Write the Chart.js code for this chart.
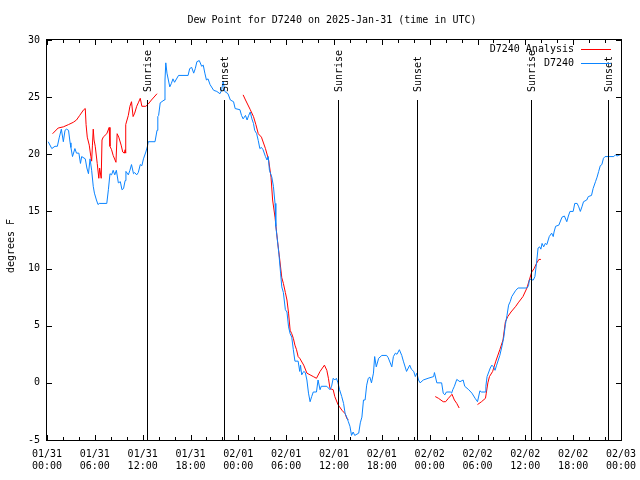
<!DOCTYPE html>
<html>
<head>
<meta charset="utf-8">
<script src="https://cdn.jsdelivr.net/npm/chart.js@4.4.1/dist/chart.umd.min.js"></script>
<style>
  html, body { margin: 0; padding: 0; background: #fff; }
</style>
</head>
<body>
<canvas id="dew-chart" width="640" height="480"></canvas>
<script>
// hours since 2025-01-31 00:00 UTC
const stationHours = [
  0.15, 0.6, 1.0, 1.3, 1.55, 1.8, 2.05, 2.26, 2.45, 2.7, 2.9, 3.0, 3.2, 3.5, 3.7, 4.0, 4.2, 4.35, 4.8, 5.0,
  5.2, 5.4, 5.6, 5.8, 5.95, 6.2, 6.4, 6.55, 7.5, 7.7, 7.9, 8.1, 8.3, 8.5, 8.7, 8.95, 9.2, 9.4, 9.6, 9.8,
  9.9, 10.2, 10.4, 10.6, 10.85, 11.0, 11.25, 11.45, 11.7, 11.9, 12.1, 12.4, 12.6, 12.7, 13.55, 13.8, 13.9, 14.0, 14.2, 14.7,
  14.8, 14.9, 15.05, 15.4, 15.6, 15.8, 16.0, 16.5, 17.7, 17.9, 18.15, 18.4, 18.6, 18.8, 19.1, 19.4, 19.6, 19.8, 20.0, 20.2,
  20.45, 20.9, 21.3, 21.7, 21.9, 22.1, 22.3, 22.7, 23.0, 23.4, 23.6, 24.2, 24.4, 24.6, 24.9, 25.1, 25.3, 25.5, 25.7, 25.9,
  26.05, 26.3, 26.5, 26.7, 26.9, 27.1, 27.4, 27.6, 27.75, 27.9, 28.2, 28.4, 28.6, 28.7, 28.9, 29.1, 29.3, 29.45, 29.65, 29.9,
  30.1, 30.3, 30.5, 30.7, 30.9, 31.1, 31.5, 31.7, 31.8, 31.95, 32.2, 32.4, 32.6, 32.8, 33.0, 33.2, 33.4, 33.8, 34.0, 34.25,
  34.4, 35.1, 35.5, 35.7, 35.9, 36.1, 36.3, 36.5, 36.7, 36.97, 37.2, 37.4, 37.6, 37.8, 38.0, 38.2, 38.4, 38.6, 39.1, 39.3,
  39.5, 39.7, 39.9, 40.1, 40.3, 40.5, 40.7, 40.95, 41.1, 41.3, 41.6, 42.0, 42.6, 42.8, 43.25, 43.45, 43.7, 43.9, 44.2, 44.5,
  44.7, 45.1, 45.5, 45.7, 46.0, 46.2, 46.4, 46.6, 46.8, 47.2, 47.8, 48.5, 48.6, 48.9, 49.5, 49.7, 49.9, 50.1, 50.6, 50.75,
  50.9, 51.1, 51.4, 51.8, 52.2, 52.4, 52.9, 53.3, 53.7, 54.0, 54.3, 54.5, 55.0, 55.05, 55.2, 55.6, 55.8, 56.0, 56.2, 56.4,
  56.8, 57.1, 57.3, 57.5, 57.7, 57.9, 58.1, 58.3, 58.8, 59.1, 60.2, 60.4, 60.5, 60.75, 60.85, 61.0, 61.2, 61.4, 61.6, 61.8,
  61.95, 62.1, 62.3, 62.5, 62.7, 63.0, 63.3, 63.5, 63.6, 63.8, 64.2, 64.6, 64.9, 65.2, 65.4, 65.6, 66.0, 66.2, 66.5, 66.7,
  66.9, 67.1, 67.3, 67.7, 67.9, 68.3, 68.5, 68.8, 69.0, 69.2, 69.4, 69.6, 69.8, 70.0, 71.1, 71.3, 71.5, 72.0
];
const stationDew = [
  21.1, 20.5, 20.7, 20.7, 21.5, 22.2, 21.1, 22.1, 22.2, 22.1, 21.0, 20.6, 19.8, 20.5, 20.1, 20.1, 19.2, 19.8, 19.6, 18.8,
  18.3, 19.6, 18.6, 17.2, 16.6, 16.0, 15.6, 15.7, 15.7, 16.9, 18.3, 18.2, 18.6, 18.2, 18.6, 17.5, 17.6, 16.9, 17.0, 17.7,
  18.5, 18.2, 18.6, 19.1, 18.3, 18.4, 18.2, 18.4, 19.1, 19.0, 19.6, 20.2, 20.7, 21.1, 21.1, 22.1, 23.3, 23.4, 24.5, 24.75,
  26.5, 28.0, 27.1, 25.9, 26.2, 26.6, 26.3, 26.9, 26.9, 27.5, 27.6, 27.1, 27.5, 28.1, 28.2, 27.7, 27.8, 27.1, 26.5, 26.6,
  26.1, 25.6, 25.5, 25.3, 25.6, 26.4, 25.5, 25.3, 24.75, 24.6, 24.0, 23.9, 23.4, 23.1, 23.4, 23.0, 23.4, 23.7, 23.1, 22.7,
  22.1, 21.8, 21.2, 20.5, 20.6, 20.4, 19.8, 19.5, 19.8, 18.6, 18.0, 17.2, 15.7, 13.7, 12.5, 11.2, 9.6, 8.4, 7.9, 6.4,
  6.2, 4.9, 4.3, 4.0, 2.9, 1.9, 1.9, 1.0, 1.55, 0.7, 1.0, 0.9, 0.25, -0.9, -1.65, -1.2, -0.8, -0.8, 0.25, -0.6,
  -0.3, -0.3, -0.6, -0.3, 0.4, 0.25, 0.4, 0.0, -0.6, -1.2, -1.8, -2.7, -3.0, -3.4, -3.8, -4.6, -4.3, -4.6, -4.4, -3.5,
  -3.0, -1.5, -1.5, -0.2, 0.4, 0.5, 0.0, 0.85, 2.3, 1.4, 2.15, 2.4, 2.4, 2.2, 1.4, 2.3, 2.6, 2.5, 2.9, 2.4,
  1.9, 1.0, 1.55, 1.2, 1.0, 0.55, 0.85, 0.25, 0.0, 0.25, 0.4, 0.55, 0.9, 0.0, 0.0, -0.9, -1.05, -0.8, -0.8, -0.9,
  -0.6, -0.3, 0.3, 0.1, 0.25, -0.3, -0.6, -0.9, -1.35, -1.65, -0.7, -0.8, -0.8, -0.3, 0.55, 1.3, 1.55, 1.4, 1.1, 1.55,
  2.4, 3.3, 4.0, 5.1, 5.9, 6.8, 7.1, 7.55, 8.1, 8.3, 8.3, 8.5, 9.0, 9.1, 9.0, 9.0, 9.3, 10.45, 11.8, 11.9,
  11.7, 12.2, 11.9, 12.2, 12.1, 12.8, 13.1, 12.8, 13.2, 13.7, 13.8, 14.5, 14.6, 14.1, 14.6, 15.0, 15.0, 15.7, 15.7, 15.4,
  15.0, 15.4, 15.85, 16.0, 16.3, 16.4, 17.0, 17.6, 18.0, 18.5, 19.0, 19.1, 19.65, 19.8, 19.8, 19.95, 19.85, 20.0
];

// null = no analysis value (gap in the line)
const analysisHours = [
  0.7, 1.4, 2.05, 2.7, 3.3, 3.7, 4.1, 4.6, 4.8, 4.9, 5.05, 5.3, 5.5, 5.6, 5.7, 5.8, 5.9, 6.05, 6.3, 6.5,
  6.6, 6.8, 6.9, 7.05, 7.5, 7.8, 7.9, 8.1, 8.3, 8.65, 8.8, 9.0, 9.3, 9.5, 9.7, 9.8, 9.85, 9.9, 10.2, 10.4,
  10.6, 10.8, 11.0, 11.25, 11.45, 11.7, 11.9, 12.4, 12.7, 13.1, 13.8, 19.0,
  24.6, 24.9, 25.5, 25.9, 26.2, 26.5, 26.9, 27.4, 27.8, 28.1, 28.3, 28.6, 28.9, 29.2, 29.45, 29.65, 29.9, 30.1, 30.3, 30.5,
  30.7, 30.9, 31.1, 31.3, 31.5, 31.7, 32.2, 32.6, 33.0, 33.4, 33.8, 34.25, 34.8, 35.1, 35.3, 35.5, 35.9, 36.1, 36.5, 36.7,
  37.0, 37.4, 37.6, 37.8, 43.0,
  48.7, 49.1, 49.7, 50.0, 50.35, 50.8, 51.1, 51.4, 51.7, 53.0,
  54.0, 54.5, 55.0, 55.1, 55.3, 55.5, 55.9, 56.3, 56.8, 57.2, 57.5, 57.8, 58.2, 58.8, 59.1, 59.7, 60.2, 60.5, 60.8, 61.1,
  61.4, 61.7, 61.95
];
const analysisDew = [
  21.8, 22.3, 22.4, 22.6, 22.8, 23.0, 23.4, 23.9, 24.0, 22.6, 21.5, 20.8, 19.8, 19.4, 20.8, 22.2, 21.25, 20.7, 19.2, 17.9,
  18.8, 17.9, 21.25, 21.5, 21.8, 22.35, 20.7, 20.4, 19.9, 19.3, 21.8, 21.5, 20.8, 20.2, 20.1, 20.4, 20.1, 22.6, 23.4, 24.2,
  24.6, 23.3, 23.6, 24.2, 24.5, 24.9, 24.2, 24.2, 24.4, 24.75, 25.3, null,
  25.2, 24.75, 23.9, 23.3, 22.6, 21.8, 21.5, 20.5, 19.5, 18.0, 16.0, 14.5, 12.5, 10.75, 9.2, 8.7, 7.9, 7.25, 6.1, 4.6,
  4.3, 3.9, 3.3, 2.9, 2.3, 2.15, 1.55, 0.85, 0.7, 0.55, 0.4, 1.0, 1.55, 1.1, 0.4, -0.5, -0.6, -1.2, -1.9, -2.1,
  -2.4, -2.7, -3.1, -3.25, null,
  -1.2, -1.35, -1.65, -1.65, -1.35, -1.0, -1.5, -1.8, -2.2, null,
  -1.9, -1.65, -1.35, -0.9, 0.0, 0.55, 1.0, 1.9, 2.9, 3.75, 5.35, 5.8, 6.2, 6.7, 7.0, 7.55, 8.3, 9.0, 9.7, 10.0,
  10.45, 10.8, 10.8
];

const sunHours = [12.6, 22.25, 36.55, 46.4, 60.7, 70.4];
const sunLabels = ["Sunrise", "Sunset", "Sunrise", "Sunset", "Sunrise", "Sunset"];

const tickDates = ["01/31", "01/31", "01/31", "01/31", "02/01", "02/01", "02/01", "02/01", "02/02", "02/02", "02/02", "02/02", "02/03"];
const tickTimes = ["00:00", "06:00", "12:00", "18:00", "00:00", "06:00", "12:00", "18:00", "00:00", "06:00", "12:00", "18:00", "00:00"];

const FONT = "DejaVu Sans Mono";
const STATION_COLOR = "#0a84ff";
const ANALYSIS_COLOR = "#ff0000";

function toPoints(xs, ys) {
  return xs.map((x, i) => ({ x: x, y: ys[i] }));
}

const gnuplotDecor = {
  id: "gnuplotDecor",
  beforeDraw(chart) {
    const ctx = chart.ctx;
    ctx.save();
    ctx.fillStyle = "#fff";
    ctx.fillRect(0, 0, chart.width, chart.height);
    ctx.restore();
  },
  afterDatasetsDraw(chart) {
    const ctx = chart.ctx;
    const a = chart.chartArea;
    const xs = chart.scales.x;
    const ys = chart.scales.y;
    ctx.save();
    ctx.font = "10px " + FONT;
    ctx.fillStyle = "#000";
    ctx.strokeStyle = "#000";
    ctx.lineWidth = 1;

    // sunrise / sunset markers
    const lineTop = a.top + 0.15 * (a.bottom - a.top);
    sunHours.forEach((h, i) => {
      const px = Math.round(xs.getPixelForValue(h)) + 0.5;
      ctx.beginPath();
      ctx.moveTo(px, lineTop);
      ctx.lineTo(px, a.bottom);
      ctx.stroke();
      ctx.save();
      ctx.translate(px + 1, lineTop - 8);
      ctx.rotate(-Math.PI / 2);
      ctx.textAlign = "left";
      ctx.textBaseline = "middle";
      ctx.fillText(sunLabels[i], 0, 0);
      ctx.restore();
    });

    // frame
    ctx.strokeRect(a.left - 0.5, a.top - 0.5, a.right - a.left + 1, a.bottom - a.top + 1);

    // inward ticks, x every 2 h (major every 6 h)
    ctx.beginPath();
    for (let h = 0; h <= 72; h += 2) {
      const px = Math.round(xs.getPixelForValue(h)) + 0.5;
      const len = h % 6 === 0 ? 5 : 3;
      ctx.moveTo(px, a.bottom);
      ctx.lineTo(px, a.bottom - len);
      ctx.moveTo(px, a.top);
      ctx.lineTo(px, a.top + len);
    }
    for (let v = -5; v <= 30; v += 5) {
      const py = Math.round(ys.getPixelForValue(v)) + 0.5;
      ctx.moveTo(a.left, py);
      ctx.lineTo(a.left + 5, py);
      ctx.moveTo(a.right, py);
      ctx.lineTo(a.right - 5, py);
    }
    ctx.stroke();

    // title
    ctx.textAlign = "center";
    ctx.textBaseline = "middle";
    ctx.fillText("Dew Point for D7240 on 2025-Jan-31 (time in UTC)", 332, 20);

    // y label
    ctx.save();
    ctx.translate(11, 246);
    ctx.rotate(-Math.PI / 2);
    ctx.fillText("degrees F", 0, 0);
    ctx.restore();

    // key, top right
    const keyItems = [
      { text: "D7240 Analysis", color: ANALYSIS_COLOR },
      { text: "D7240", color: STATION_COLOR }
    ];
    keyItems.forEach((item, row) => {
      const y = 49 + row * 14;
      ctx.textAlign = "right";
      ctx.fillStyle = "#000";
      ctx.fillText(item.text, 574, y + 0.5);
      ctx.fillStyle = item.color;
      ctx.fillRect(581, y, 30, 1);
    });
    ctx.restore();
  }
};

new Chart(document.getElementById("dew-chart"), {
  type: "line",
  data: {
    datasets: [
      {
        label: "D7240",
        data: toPoints(stationHours, stationDew),
        borderColor: STATION_COLOR,
        borderWidth: 1,
        pointRadius: 0,
        tension: 0,
        fill: false
      },
      {
        label: "D7240 Analysis",
        data: toPoints(analysisHours, analysisDew),
        borderColor: ANALYSIS_COLOR,
        borderWidth: 1,
        pointRadius: 0,
        tension: 0,
        spanGaps: false,
        fill: false
      }
    ]
  },
  options: {
    responsive: false,
    animation: false,
    devicePixelRatio: 1,
    layout: { padding: { top: 40, right: 19, left: 0, bottom: 0 } },
    plugins: {
      legend: { display: false },
      title: { display: false },
      tooltip: { enabled: false }
    },
    scales: {
      x: {
        type: "linear",
        min: 0,
        max: 72,
        grid: { display: false, drawTicks: false },
        border: { display: false },
        ticks: {
          stepSize: 6,
          autoSkip: false,
          maxRotation: 0,
          padding: 8,
          color: "#000",
          font: { family: FONT, size: 10, lineHeight: 1.2 },
          callback: (v) => {
            const i = Math.round(v / 6);
            return [tickDates[i], tickTimes[i]];
          }
        },
        afterFit: (s) => {
          s.height = 40;
          s.paddingLeft = 0;
          s.paddingRight = 0;
        }
      },
      y: {
        min: -5,
        max: 30,
        grid: { display: false, drawTicks: false },
        border: { display: false },
        ticks: {
          stepSize: 5,
          padding: 7,
          color: "#000",
          font: { family: FONT, size: 10 }
        },
        afterFit: (s) => {
          s.width = 47;
          s.paddingTop = 0;
          s.paddingBottom = 0;
        }
      }
    }
  },
  plugins: [gnuplotDecor]
});
</script>
</body>
</html>
